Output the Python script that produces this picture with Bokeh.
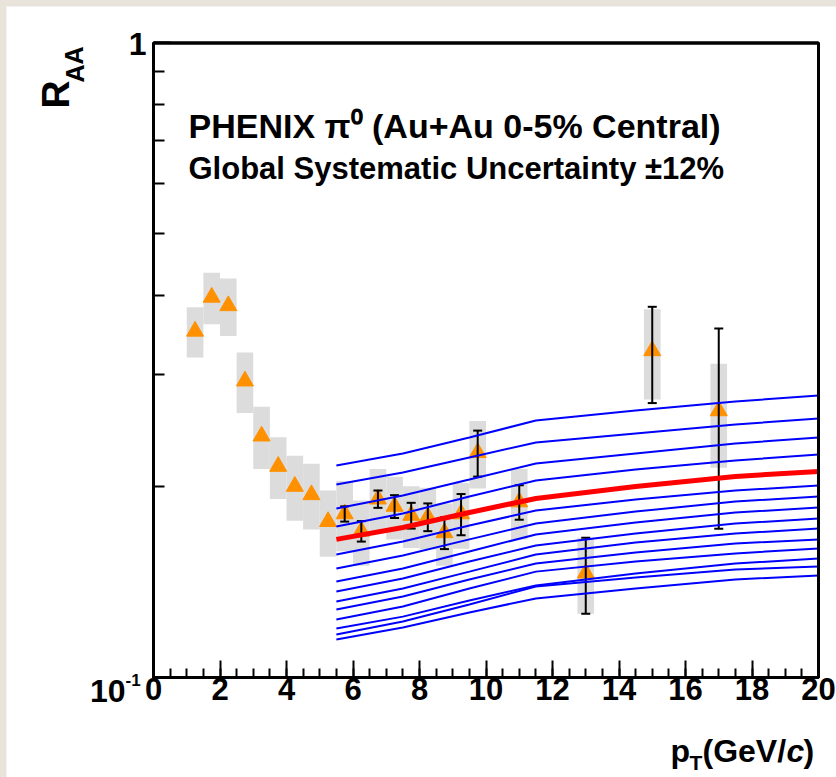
from bokeh.plotting import figure
from bokeh.models import Range1d, FixedTicker, Label, LogAxis
from bokeh.layouts import column
from bokeh.embed import file_html
from bokeh.resources import INLINE

# ---- data ----
pt = [1.25, 1.75, 2.25, 2.75, 3.25, 3.75, 4.25, 4.75, 5.25, 5.75, 6.25,
      6.75, 7.25, 7.75, 8.25, 8.75, 9.25, 9.75, 11.0, 13.0, 15.0, 17.0]
raa = [0.351, 0.397, 0.385, 0.293, 0.240, 0.215, 0.200, 0.194, 0.176, 0.181, 0.170,
       0.191, 0.186, 0.180, 0.179, 0.169, 0.181, 0.226, 0.189, 0.146, 0.327, 0.263]
stat_err = [0, 0, 0, 0, 0, 0, 0, 0, 0, 0.005, 0.0063,
            0.006, 0.0077, 0.0084, 0.009, 0.0097, 0.0135, 0.0188, 0.0118, 0.020, 0.0565, 0.0915]
sys_err = [0.032, 0.037, 0.040, 0.032, 0.027, 0.024, 0.0235, 0.023, 0.021, 0.023, 0.020,
           0.022, 0.021, 0.020, 0.020, 0.019, 0.0215, 0.0275, 0.024, 0.020, 0.053, 0.049]

theory_pt = [5.5, 7.5, 9.5, 11.5, 14.5, 17.5, 20.0]
theory_blue = [
    [0.2157, 0.2253, 0.2388, 0.2539, 0.2633, 0.2720, 0.2780],
    [0.2013, 0.2103, 0.2221, 0.2345, 0.2423, 0.2503, 0.2558],
    [0.1845, 0.1935, 0.2050, 0.2173, 0.2253, 0.2336, 0.2388],
    [0.1729, 0.1812, 0.1928, 0.2043, 0.2126, 0.2197, 0.2245],
    [0.1562, 0.1638, 0.1735, 0.1832, 0.1907, 0.1970, 0.2006],
    [0.1485, 0.1556, 0.1650, 0.1748, 0.1825, 0.1893, 0.1928],
    [0.1416, 0.1485, 0.1579, 0.1680, 0.1754, 0.1819, 0.1852],
    [0.1366, 0.1432, 0.1523, 0.1614, 0.1686, 0.1748, 0.1780],
    [0.1317, 0.1381, 0.1468, 0.1562, 0.1632, 0.1686, 0.1716],
    [0.1280, 0.1341, 0.1427, 0.1512, 0.1573, 0.1626, 0.1650],
    [0.1234, 0.1294, 0.1381, 0.1468, 0.1523, 0.1568, 0.1597],
    [0.1194, 0.1247, 0.1322, 0.1396, 0.1458, 0.1512, 0.1539],
    [0.1169, 0.1225, 0.1303, 0.1391, 0.1437, 0.1479, 0.1496],
    [0.1148, 0.1199, 0.1266, 0.1332, 0.1381, 0.1427, 0.1447],
]
theory_red = [0.1650, 0.1723, 0.1819, 0.1914, 0.1999, 0.2073, 0.2111]

x_ticks = [0, 2, 4, 6, 8, 10, 12, 14, 16, 18, 20]
x_minor = [i * 0.5 for i in range(41)]
y_minor = [0.2, 0.3, 0.4, 0.5, 0.6, 0.7, 0.8, 0.9]
X_MIN, X_MAX, Y_MIN, Y_MAX = 0, 20, 0.1, 1.0

FONT = "Liberation Sans"

# page-pixel geometry of the reference: x=0 at 153 px, 33.25 px per GeV/c;
# y=1 at 42 px, 635 px per decade. Canvas spans page (6,6)-(836,777).
X0, PX_PER_X, Y_TOP, PX_PER_DEC = 153.0, 33.25, 42.0, 635.0
CANVAS_L, CANVAS_T, CANVAS_R, CANVAS_B = 6.0, 6.0, 836.0, 777.0


def px_to_x(px):
    return (px - X0) / PX_PER_X


def py_to_y(py):
    return 10 ** (-(py - Y_TOP) / PX_PER_DEC)


p = figure(width=830, height=771, output_backend="svg", toolbar_location=None,
           x_range=Range1d(px_to_x(CANVAS_L), px_to_x(CANVAS_R)),
           y_range=Range1d(py_to_y(CANVAS_B), py_to_y(CANVAS_T)), y_axis_type="log",
           min_border=0)
p.title.visible = False
p.background_fill_color = "white"
p.border_fill_color = "white"
p.grid.visible = False
p.outline_line_color = None

# x axis (bottom), drawn at y = 0.1
xa = p.xaxis[0]
xa.fixed_location = Y_MIN
xa.bounds = (X_MIN, X_MAX)
xa.ticker = FixedTicker(ticks=x_ticks, minor_ticks=x_minor)
xa.axis_line_width = 3
xa.major_tick_in = 17
xa.major_tick_out = 0
xa.minor_tick_in = 9
xa.minor_tick_out = 0
xa.major_tick_line_width = 2
xa.minor_tick_line_width = 2
xa.major_label_text_font = FONT
xa.major_label_text_font_style = "bold"
xa.major_label_text_font_size = "31px"
xa.major_label_text_color = "black"
xa.major_label_standoff = 0

# y axis (left), drawn at x = 0
ya = p.yaxis[0]
ya.fixed_location = X_MIN
ya.bounds = (Y_MIN, Y_MAX)
ya.ticker = FixedTicker(ticks=[Y_MIN, Y_MAX], minor_ticks=y_minor)
ya.axis_line_width = 3
ya.major_tick_in = 17
ya.major_tick_out = 0
ya.minor_tick_in = 11
ya.minor_tick_out = 0
ya.major_tick_line_width = 2
ya.minor_tick_line_width = 2
ya.major_label_overrides = {Y_MIN: " ", Y_MAX: " "}
ya.major_label_text_color = "white"

# right frame edge
right = LogAxis(fixed_location=X_MAX, bounds=(Y_MIN, Y_MAX),
                ticker=FixedTicker(ticks=[Y_MIN, Y_MAX]),
                axis_line_width=3, axis_line_color="black",
                major_tick_in=0, major_tick_out=0,
                major_label_overrides={Y_MIN: " ", Y_MAX: " "},
                major_label_text_color="white")
p.add_layout(right, "right")

# frame box outline (its top edge is the frame's top)
TOP_EDGE = py_to_y(Y_TOP + 0.5)
p.quad(left=[X_MIN], right=[X_MAX], bottom=[Y_MIN], top=[TOP_EDGE],
       fill_color=None, line_color="black", line_width=3)
p.line([X_MIN, X_MAX], [TOP_EDGE, TOP_EDGE], line_color="black", line_width=3)

# systematic boxes
box_top = [r + s for r, s in zip(raa, sys_err)]
box_bot = [r - s for r, s in zip(raa, sys_err)]
p.quad(left=[x - 0.25 for x in pt], right=[x + 0.25 for x in pt], top=box_top, bottom=box_bot,
       fill_color="#dcdcdc", line_color=None)

# data points
p.scatter(pt, raa, marker="triangle", size=17, fill_color="#ff9000", line_color="#ff9000")

# stat error bars
ex = [x for x, e in zip(pt, stat_err) if e > 0]
eu = [r + e for r, e in zip(raa, stat_err) if e > 0]
el = [r - e for r, e in zip(raa, stat_err) if e > 0]
p.segment(x0=ex, y0=el, x1=ex, y1=eu, line_color="black", line_width=2)
p.scatter(ex, eu, marker="dash", size=9, line_color="black", line_width=2)
p.scatter(ex, el, marker="dash", size=9, line_color="black", line_width=2)

# theory curves
for curve in theory_blue:
    p.line(theory_pt, curve, line_color="#0000ff", line_width=2)
p.line(theory_pt, theory_red, line_color="#ff0000", line_width=5)


def lab(text, px, py, size, align="left", baseline="middle", angle=0.0, style="bold", font=FONT):
    p.add_layout(Label(x=px_to_x(px), y=py_to_y(py),
                       text=text, text_font=font, text_font_style=style, text_font_size=size,
                       text_color="black", text_align=align, text_baseline=baseline,
                       angle=angle))


lab("1", 146, 43, "32px", align="right")
lab("10", 125, 690, "32px", align="right")
lab("-1", 125, 679, "17px", align="left")

lab("PHENIX π⁰ (Au+Au 0-5% Central)", 188, 125, "34px")
lab("Global Systematic Uncertainty ±12%", 188, 168, "31px")

# y title R_AA (rotated)
lab("R", 55, 108, "39px", baseline="alphabetic", angle=1.5708)
lab("AA", 74, 82, "25px", baseline="alphabetic", angle=1.5708)

# x title p_T(GeV/c)
lab("p", 670, 750, "32px", baseline="alphabetic")
lab("T", 689, 762, "21px", baseline="alphabetic")
lab("(GeV/", 702, 750, "32px", baseline="alphabetic")
lab("c", 786, 750, "32px", baseline="alphabetic", style="bold italic")
lab(")", 803, 750, "32px", baseline="alphabetic")

p.margin = (6, 0, 0, 6)
layout = column(p, styles={"background-color": "#e8e4dc"})

open("out.html", "w").write(file_html(layout, INLINE))
